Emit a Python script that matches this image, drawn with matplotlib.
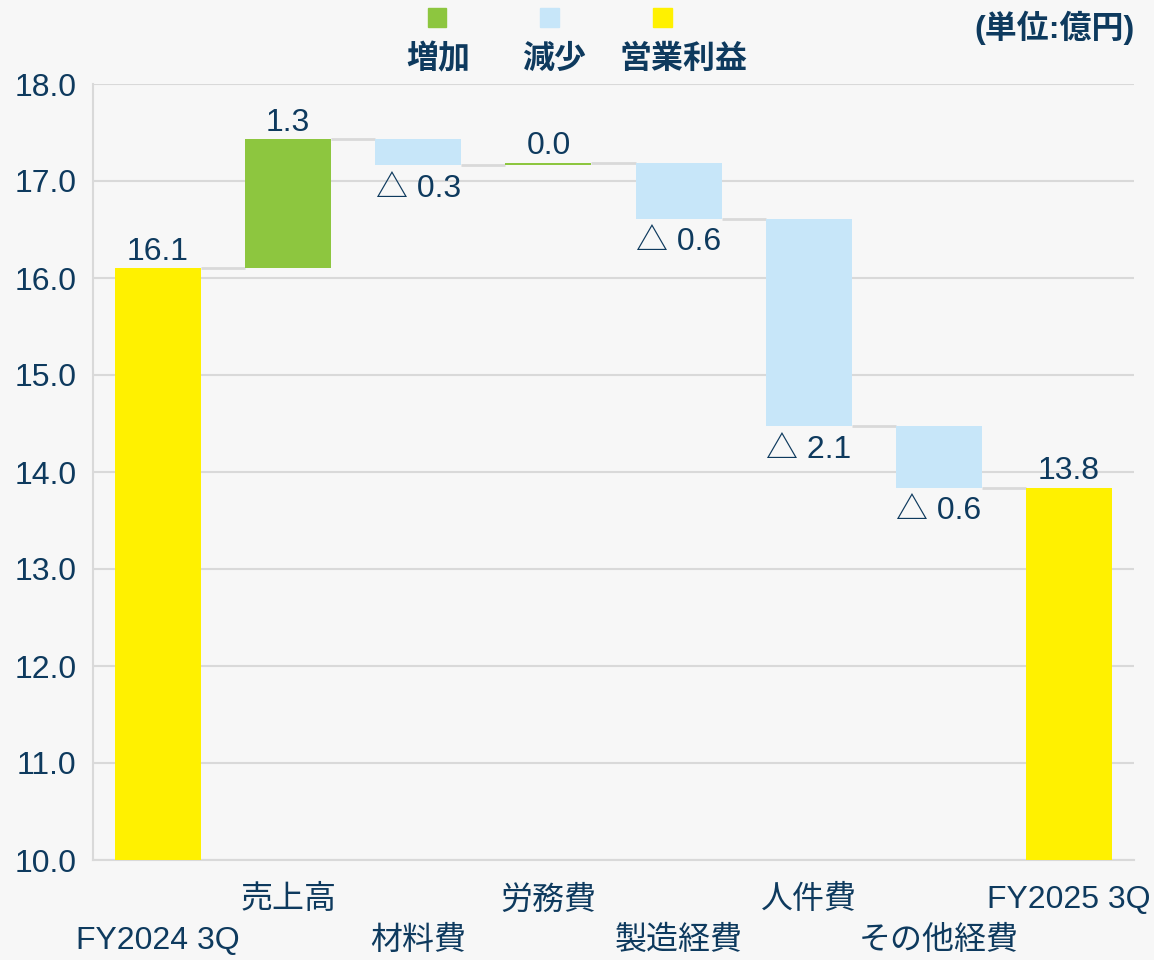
import numpy as np
import matplotlib.pyplot as plt
from matplotlib.patches import Rectangle

# %% Data (億円):
categories = ['FY2024 3Q', '売上高', '材料費', '労務費', '製造経費', '人件費', 'その他経費', 'FY2025 3Q']
start_value = 16.10
deltas = [1.33, -0.27, 0.03, -0.58, -2.14, -0.63]
legend_names = ['増加', '減少', '営業利益']

# %% Style:
plt.rcParams['font.family'] = ['Liberation Sans', 'Noto Sans CJK JP', 'DejaVu Sans']
text_c = '#0e3a5e'
c_up = '#8dc63f'
c_down = '#c7e6f9'
c_total = '#fff100'
grid_c = '#d9d9d9'
bg = '#f7f7f7'

# %% Waterfall levels:
levels = np.concatenate([[start_value], start_value + np.cumsum(deltas)])
end_value = levels[-1]
n = len(categories)
x = np.arange(n)
w = 0.66

fig = plt.figure(figsize=(11.54, 9.6), dpi=100, facecolor=bg)
ax = fig.add_axes([93/1154, 100/960, 1041/1154, 776/960])
ax.set_facecolor(bg)
ax.set_xlim(-0.5, n - 0.5)
ax.set_ylim(10, 18)
base = 9.98

# totals
ax.bar([x[0], x[-1]], [start_value - base, end_value - base], bottom=base,
       width=w, color=c_total, zorder=3)
# deltas
for i, d in enumerate(deltas):
    lo = min(levels[i], levels[i + 1])
    ax.bar(x[i + 1], abs(d), bottom=lo, width=w,
           color=c_up if d >= 0 else c_down, zorder=3)

# connector lines
for i in range(n - 1):
    ax.plot([x[i] + w/2, x[i + 1] - w/2], [levels[i], levels[i]],
            color=grid_c, lw=2, zorder=2, solid_capstyle='butt')

# value labels
fs = 23
ax.annotate(f'{start_value:.1f}', (x[0], start_value), xytext=(0, 1),
            textcoords='offset points', ha='center', va='bottom',
            fontsize=fs, color=text_c)
ax.annotate(f'{end_value:.1f}', (x[-1], end_value), xytext=(0, 1),
            textcoords='offset points', ha='center', va='bottom',
            fontsize=fs, color=text_c)
for i, d in enumerate(deltas):
    if d >= 0:
        ax.annotate(f'{d:.1f}', (x[i + 1], levels[i + 1]), xytext=(0, 1),
                    textcoords='offset points', ha='center', va='bottom',
                    fontsize=fs, color=text_c)
    else:
        ax.annotate(f'△ {abs(d):.1f}', (x[i + 1], levels[i + 1]), xytext=(0, -6),
                    textcoords='offset points', ha='center', va='top',
                    fontsize=fs, color=text_c)

# axes styling
ax.set_yticks(np.arange(10, 18.1, 1))
ax.set_yticklabels([f'{v:.1f}' for v in np.arange(10, 18.1, 1)])
ax.tick_params(axis='y', length=0, pad=12, labelsize=fs, labelcolor=text_c)
ax.set_xticks([])
ax.grid(axis='y', color=grid_c, lw=1.5, zorder=0)
for s in ['top', 'right']:
    ax.spines[s].set_visible(False)
for s in ['left', 'bottom']:
    ax.spines[s].set_color(grid_c)
    ax.spines[s].set_linewidth(1.5)

# staggered category labels
xt = ax.get_xaxis_transform()
for i, name in enumerate(categories):
    yy = -0.052 if i % 2 else -0.104
    ax.text(x[i], yy, name, transform=xt, ha='center', va='center',
            fontsize=fs, color=text_c)

# legend (manual)
sq = 19
for cx, col in zip([437, 549, 662], [c_up, c_down, c_total]):
    fig.patches.append(Rectangle(((cx - sq/2)/1154, 1 - (17 + sq/2)/960),
                                 sq/1154, sq/960, transform=fig.transFigure,
                                 color=col))
for cx, name in zip([438, 554, 683], legend_names):
    fig.text(cx/1154, 1 - 60/960, name, ha='center', va='center',
             fontsize=fs, fontweight='bold', color=text_c)

fig.text(1135/1154, 1 - 28/960, '(単位:億円)', ha='right', va='center',
         fontsize=fs, fontweight='bold', color=text_c)

fig.savefig('out.png', dpi=100, facecolor=bg)
